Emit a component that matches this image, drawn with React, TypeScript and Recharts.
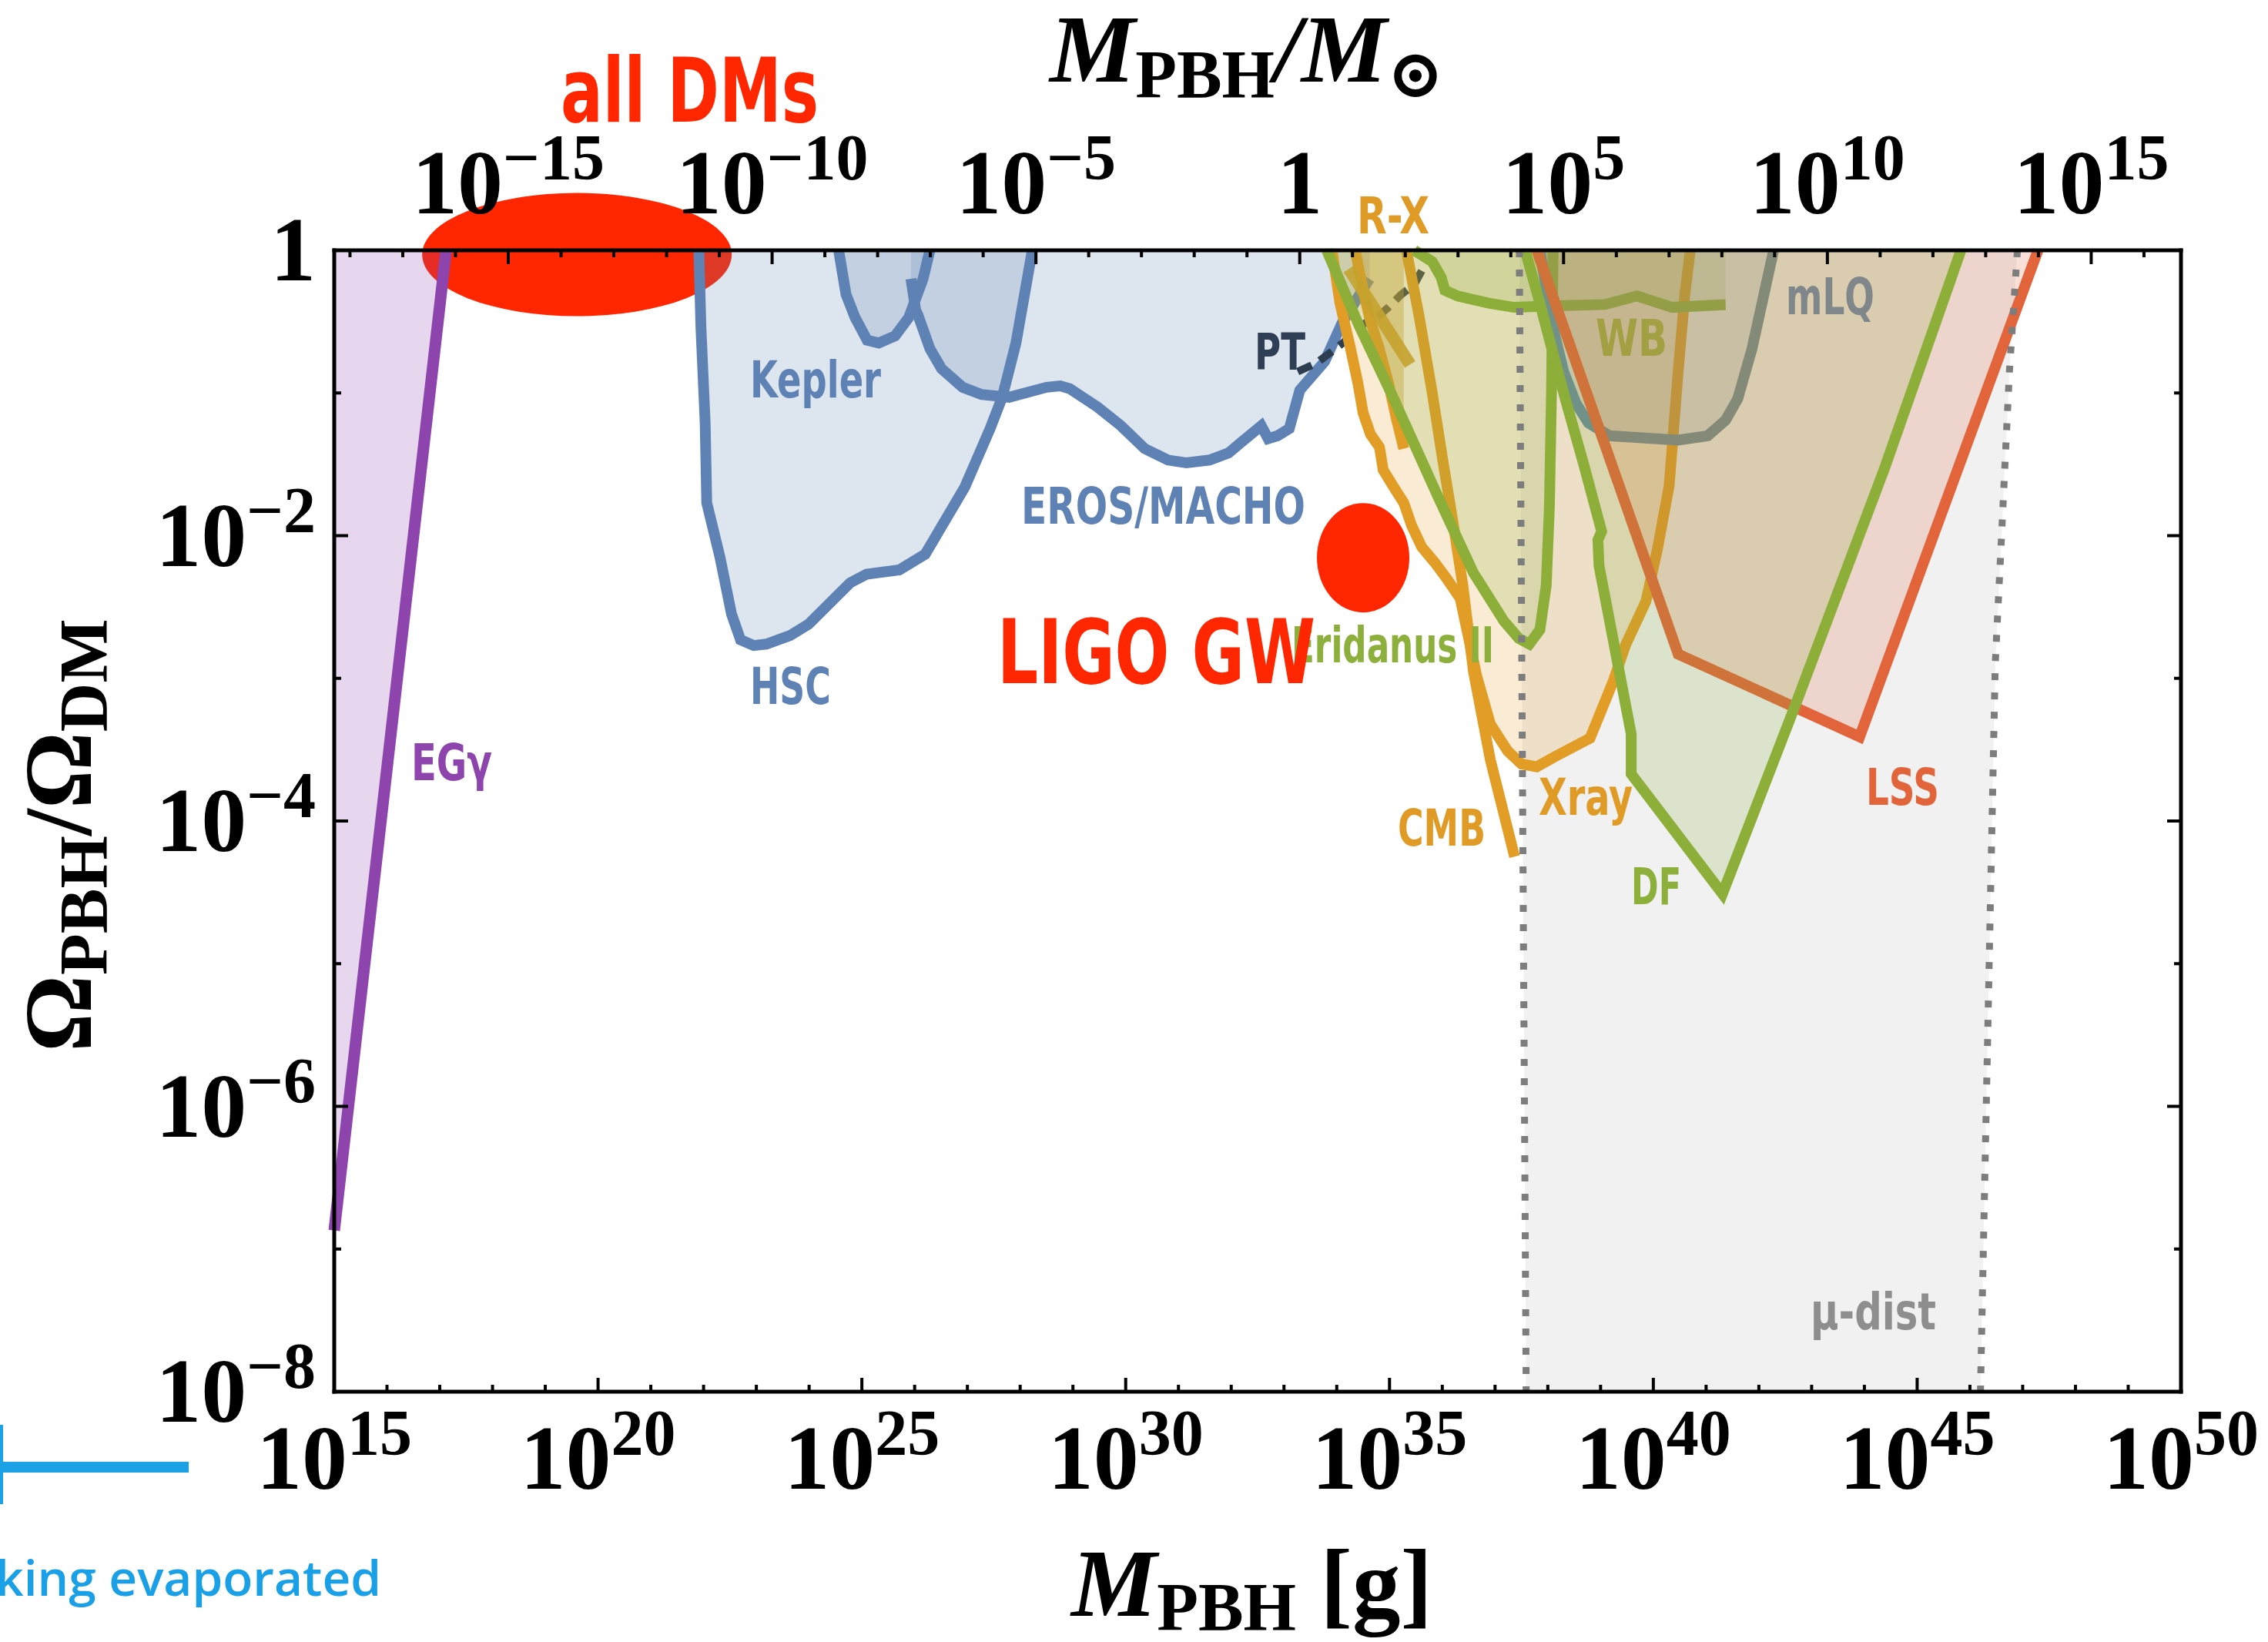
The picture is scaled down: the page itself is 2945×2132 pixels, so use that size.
import { Area, ComposedChart, Line, Scatter, XAxis, YAxis } from "recharts";

const W = 2945;
const H = 2132;
const PLOT = { left: 434, right: 2832, top: 325, bottom: 1807 };
const AX = 20;

const SERIF = '"Liberation Serif", "DejaVu Serif", serif';
const SANS = '"Liberation Sans Narrow", "DejaVu Sans Condensed", "Roboto Condensed", Roboto, sans-serif';

// log10 of one solar mass in grams
const LOG_MSUN = 33.2986;

const range = (a: number, b: number) => Array.from({ length: b - a + 1 }, (_, i) => a + i);

// ticks: log10 M[g], log10 M/Msun, log10 fraction
const MASS_DECADES = range(15, 50);
const MASS_LABELS = [15, 20, 25, 30, 35, 40, 45, 50];
const SOLAR_DECADES = range(-18, 16);
const SOLAR_LABELS = [-15, -10, -5, 0, 5, 10, 15];
const FRAC_DECADES = range(-8, 0);
const FRAC_LABELS = [0, -2, -4, -6, -8];

// constraint boundaries as [log10 M/g, log10 Omega_PBH/Omega_DM]
const EGAMMA = [[15.0, -6.87], [17.12, 0]];
const HSC = [
  [21.91, 0], [21.95, -0.54], [22.03, -1.21], [22.06, -1.77], [22.31, -2.15], [22.53, -2.55],
  [22.7, -2.73], [22.95, -2.77], [23.19, -2.76], [23.64, -2.7], [23.99, -2.62], [24.78, -2.33],
  [25.09, -2.27], [25.71, -2.24], [26.2, -2.13], [26.95, -1.66], [27.43, -1.25], [27.66, -1.03],
  [27.92, -0.65], [28.23, 0],
];
const KEPLER = [
  [24.56, 0], [24.7, -0.31], [24.87, -0.47], [25.1, -0.63], [25.32, -0.65], [25.63, -0.6],
  [25.89, -0.47], [26.16, -0.2], [26.29, 0],
];
const EROS_MACHO = [
  [25.93, -0.2], [26.02, -0.42], [26.06, -0.45], [26.29, -0.69], [26.51, -0.83], [26.91, -0.96],
  [27.26, -1.01], [27.79, -1.03], [28.5, -0.96], [28.76, -0.95], [28.94, -0.97], [29.47, -1.1],
  [29.91, -1.23], [30.36, -1.39], [30.8, -1.47], [31.15, -1.49], [31.59, -1.47], [31.95, -1.42],
  [32.21, -1.34], [32.57, -1.23], [32.7, -1.32], [32.88, -1.3], [33.1, -1.25], [33.3, -0.98],
  [33.77, -0.78], [34.1, -0.51], [34.62, -0.2],
];
const PT = [
  [33.26, -0.85], [33.62, -0.79], [34.15, -0.64], [34.25, -0.57], [34.79, -0.46], [34.98, -0.4],
  [35.22, -0.31], [35.47, -0.24], [35.76, -0.04],
];
const XRAY = [
  [33.91, 0], [34.06, -0.37], [34.25, -0.67], [34.4, -0.93], [34.5, -1.14], [34.64, -1.29],
  [34.81, -1.38], [34.88, -1.54], [35.08, -1.66], [35.27, -1.77], [35.42, -1.93], [35.61, -2.08],
  [35.86, -2.19], [36.1, -2.31], [36.34, -2.44], [36.65, -2.98], [36.91, -3.32], [37.24, -3.51],
  [37.5, -3.6], [37.79, -3.62], [38.13, -3.55], [38.8, -3.42], [39.24, -3.02], [39.47, -2.77],
  [39.86, -2.46], [40.08, -2.09], [40.3, -1.65], [40.47, -0.85], [40.6, -0.3], [40.7, 0],
];
const CMB = [
  [35.32, 0], [35.56, -0.46], [35.81, -1.0], [36.0, -1.45], [36.2, -1.9], [36.39, -2.35],
  [36.59, -2.95], [36.91, -3.57], [37.37, -4.25],
];
const RX_REGION = [
  [34.35, 0], [34.5, -0.28], [34.64, -0.5], [34.79, -0.67], [34.98, -0.93], [35.13, -1.18],
  [35.27, -1.39],
];
const RX_LINE = [[34.23, -0.13], [35.39, -0.8]];
const ERIDANUS = [
  [33.81, 0], [34.4, -0.51], [35.03, -1.0], [35.91, -1.72], [36.59, -2.26], [37.17, -2.6],
  [37.45, -2.72], [37.65, -2.76], [37.85, -2.66], [37.97, -2.35], [38.03, -1.8], [38.07, -1.0],
  [38.1, 0],
];
const WB = [
  [35.47, 0], [35.81, -0.08], [35.98, -0.19], [36.05, -0.28], [36.29, -0.32], [36.88, -0.37],
  [37.36, -0.4], [38.05, -0.39], [39.08, -0.38], [39.69, -0.32], [40.36, -0.4], [41.37, -0.38],
];
const MLQ = [
  [37.85, 0], [38.09, -0.53], [38.3, -0.85], [38.53, -1.07], [38.77, -1.21], [39.17, -1.3],
  [40.47, -1.33], [41.03, -1.3], [41.37, -1.19], [41.6, -1.04], [41.87, -0.69], [42.28, 0],
];
const LSS = [[37.79, 0], [40.47, -2.83], [43.91, -3.41], [47.29, 0]];
const DF = [
  [37.57, 0], [37.85, -0.37], [38.04, -0.64], [38.33, -1.04], [38.68, -1.5], [39.02, -1.97],
  [38.95, -2.03], [38.97, -2.21], [39.58, -3.39], [39.58, -3.67], [41.31, -4.51], [42.71, -3.17],
  [44.38, -1.53], [45.83, 0],
];
const MU_LEFT = [[37.46, 0], [37.59, -8]];
const MU_RIGHT = [[46.9, 0], [46.75, -0.84], [46.61, -1.92], [46.48, -2.9], [46.37, -4.9], [46.2, -8]];

// signal blobs: centre in log units
const ALL_DM = [[19.6, -0.03]];
const LIGO = [[34.5, -2.155]];

const pts = (arr: number[][]) => arr.map(([x, y]) => ({ x, y }));
const MU_REGION = pts([...MU_LEFT, ...MU_RIGHT.slice().reverse()]);

const sup = (n: number) => (n < 0 ? `\u2212${-n}` : `${n}`);

function Power({ x, y, exp, anchor }: { x: number; y: number; exp: number; anchor: "start" | "middle" | "end" }) {
  return (
    <text x={x} y={y} textAnchor={anchor} fontFamily={SERIF} fontWeight="bold" fontSize={118} fill="#000">
      {exp === 0 ? (
        "1"
      ) : (
        <>
          10
          <tspan fontSize={84} dy={-44}>
            {sup(exp)}
          </tspan>
        </>
      )}
    </text>
  );
}

type TickProps = { x: number; y: number; payload: { value: number } };

function BottomTick({ x, y, payload }: TickProps) {
  const v = Math.round(payload.value);
  return (
    <g>
      <line x1={x} x2={x} y1={y} y2={y - (v % 5 === 0 ? 18 : 9)} stroke="#000" strokeWidth={4} />
      {MASS_LABELS.includes(v) && <Power x={x} y={y + 126} exp={v} anchor="middle" />}
    </g>
  );
}

function TopTick({ x, y, payload }: TickProps) {
  const e = Math.round(payload.value - LOG_MSUN);
  return (
    <g>
      <line x1={x} x2={x} y1={y} y2={y + (e % 5 === 0 ? 18 : 9)} stroke="#000" strokeWidth={4} />
      {SOLAR_LABELS.includes(e) && <Power x={x} y={y - 48} exp={e} anchor="middle" />}
    </g>
  );
}

function LeftTick({ x, y, payload }: TickProps) {
  const v = Math.round(payload.value);
  return (
    <g>
      <line x1={x} x2={x + (v % 2 === 0 ? 18 : 9)} y1={y} y2={y} stroke="#000" strokeWidth={4} />
      {FRAC_LABELS.includes(v) && <Power x={x - 24} y={y + 39} exp={v} anchor="end" />}
    </g>
  );
}

function RightTick({ x, y, payload }: TickProps) {
  const v = Math.round(payload.value);
  return <line x1={x} x2={x - (v % 2 === 0 ? 18 : 9)} y1={y} y2={y} stroke="#000" strokeWidth={4} />;
}

const blob = (rx: number, ry: number) => (p: any) => <ellipse cx={p.cx} cy={p.cy} rx={rx} ry={ry} fill="#ff2600" />;

const frame = { stroke: "#000", strokeWidth: 5, strokeLinecap: "square" as const };

// annotation text: left edge, baseline, drawn width
const LABELS: { text: string; x: number; y: number; w: number; color: string; size?: number }[] = [
  { text: "all DMs", x: 728, y: 158, w: 335, color: "#ff2600", size: 116 },
  { text: "R-X", x: 1762, y: 303, w: 94, color: "#e09b26" },
  { text: "Kepler", x: 974, y: 516, w: 170, color: "#5f82b5" },
  { text: "HSC", x: 974, y: 914, w: 105, color: "#5f82b5" },
  { text: "EROS/MACHO", x: 1326, y: 680, w: 369, color: "#5f82b5" },
  { text: "PT", x: 1629, y: 480, w: 66, color: "#2e3f55" },
  { text: "EGγ", x: 534, y: 1013, w: 105, color: "#8e44ad" },
  { text: "Eridanus II", x: 1677, y: 860, w: 263, color: "#8db03c", size: 64 },
  { text: "LIGO GW", x: 1295, y: 887, w: 413, color: "#ff2600", size: 116 },
  { text: "WB", x: 2072, y: 462, w: 93, color: "#a3a043" },
  { text: "mLQ", x: 2319, y: 408, w: 115, color: "#80878a" },
  { text: "CMB", x: 1815, y: 1098, w: 114, color: "#e09b26" },
  { text: "Xray", x: 1998, y: 1058, w: 122, color: "#e09b26" },
  { text: "DF", x: 2118, y: 1174, w: 65, color: "#8db03c" },
  { text: "LSS", x: 2423, y: 1045, w: 95, color: "#e1643a" },
  { text: "μ-dist", x: 2351, y: 1726, w: 163, color: "#8e8e8e" },
];

const LW = 14;

export default function App() {
  const common = {
    xAxisId: "m",
    yAxisId: "f",
    dataKey: "y",
    type: "linear" as const,
    isAnimationActive: false,
    dot: false,
    activeDot: false,
  };
  return (
    <div style={{ position: "absolute", left: 0, top: 0, width: W, height: H, background: "#fff" }}>
      <ComposedChart
        width={W}
        height={H}
        margin={{ top: PLOT.top - AX, bottom: H - PLOT.bottom - AX, left: PLOT.left - AX, right: W - PLOT.right - AX }}
      >
        <XAxis
          xAxisId="m"
          dataKey="x"
          type="number"
          domain={[15, 50]}
          ticks={MASS_DECADES}
          interval={0}
          height={AX}
          tickSize={0}
          tickMargin={0}
          tickLine={false}
          axisLine={frame}
          tick={(p: any) => <BottomTick {...p} />}
        />
        <XAxis
          xAxisId="sun"
          dataKey="x"
          orientation="top"
          type="number"
          domain={[15, 50]}
          allowDataOverflow
          ticks={SOLAR_DECADES.map((e) => e + LOG_MSUN)}
          interval={0}
          height={AX}
          tickSize={0}
          tickMargin={0}
          tickLine={false}
          axisLine={frame}
          tick={(p: any) => <TopTick {...p} />}
        />
        <YAxis
          yAxisId="f"
          dataKey="y"
          type="number"
          domain={[-8, 0]}
          ticks={FRAC_DECADES}
          interval={0}
          width={AX}
          tickSize={0}
          tickMargin={0}
          tickLine={false}
          axisLine={frame}
          tick={(p: any) => <LeftTick {...p} />}
        />
        <YAxis
          yAxisId="r"
          dataKey="y"
          orientation="right"
          type="number"
          domain={[-8, 0]}
          allowDataOverflow
          ticks={FRAC_DECADES}
          interval={0}
          width={AX}
          tickSize={0}
          tickMargin={0}
          tickLine={false}
          axisLine={frame}
          tick={(p: any) => <RightTick {...p} />}
        />

        {/* mu-distortion band */}
        <Area {...common} data={MU_REGION} stroke="none" fill="#f1f1f1" fillOpacity={1} baseValue={0} zIndex={10} />

        <Scatter xAxisId="m" yAxisId="f" data={pts(ALL_DM)} isAnimationActive={false} shape={blob(201, 80)} zIndex={20} />
        <Scatter xAxisId="m" yAxisId="f" data={pts(LIGO)} isAnimationActive={false} shape={blob(60, 71)} zIndex={21} />

        <Area {...common} data={pts(EGAMMA)} stroke="#8e44ad" strokeWidth={LW + 1} fill="#8e44ad" fillOpacity={0.21} baseValue={0} zIndex={101} />
        <Area {...common} data={pts(HSC)} stroke="#5f82b5" strokeWidth={LW} fill="#5f82b5" fillOpacity={0.21} baseValue={0} zIndex={102} />
        <Area {...common} data={pts(KEPLER)} stroke="#5f82b5" strokeWidth={LW} fill="#5f82b5" fillOpacity={0.21} baseValue={0} zIndex={103} />
        <Area {...common} data={pts(EROS_MACHO)} stroke="#5f82b5" strokeWidth={LW} fill="#5f82b5" fillOpacity={0.21} baseValue={0} zIndex={104} />
        <Line {...common} data={pts(PT)} stroke="#2d3e50" strokeWidth={10} strokeDasharray="20 12" zIndex={105} />

        <Area {...common} data={pts(XRAY)} stroke="#e29d26" strokeWidth={LW} fill="#e29d26" fillOpacity={0.2} baseValue={0} zIndex={106} />
        <Line {...common} data={pts(CMB)} stroke="#e29d26" strokeWidth={LW} zIndex={107} />
        <Area {...common} data={pts(RX_REGION)} stroke="#e29d26" strokeWidth={LW} fill="#d09e2e" fillOpacity={0.4} baseValue={0} zIndex={108} />
        <Line {...common} data={pts(RX_LINE)} stroke="#d4a02a" strokeOpacity={0.9} strokeWidth={LW + 2} zIndex={109} />

        <Area {...common} data={pts(ERIDANUS)} stroke="#8daf3a" strokeWidth={LW} fill="#8daf3a" fillOpacity={0.2} baseValue={0} zIndex={110} />
        <Area {...common} data={pts(WB)} stroke="#8daf3a" strokeWidth={LW} fill="#8daf3a" fillOpacity={0.2} baseValue={0} zIndex={111} />
        <Area {...common} data={pts(MLQ)} stroke="#6a8a9b" strokeWidth={LW} fill="#6a8a9b" fillOpacity={0.2} baseValue={0} zIndex={112} />
        <Area {...common} data={pts(LSS)} stroke="#e1643a" strokeWidth={LW} fill="#e1643a" fillOpacity={0.2} baseValue={0} zIndex={113} />
        <Area {...common} data={pts(DF)} stroke="#8daf3a" strokeWidth={LW} fill="#8daf3a" fillOpacity={0.2} baseValue={0} zIndex={114} />

        <Line {...common} data={pts(MU_LEFT)} stroke="#7d7d7d" strokeWidth={9} strokeDasharray="9 16" zIndex={115} />
        <Line {...common} data={pts(MU_RIGHT)} stroke="#7d7d7d" strokeWidth={9} strokeDasharray="9 16" zIndex={116} />
      </ComposedChart>

      <svg width={W} height={H} style={{ position: "absolute", left: 0, top: 0, pointerEvents: "none" }}>
        <text x={1363} y={106} fontFamily={SERIF} fontWeight="bold" fontSize={125}>
          <tspan fontStyle="italic">M</tspan>
          <tspan fontSize={88} dy={20}>PBH</tspan>
          <tspan fontStyle="italic" dy={-20}>/M</tspan>
          <tspan fontSize={88} dy={20}>⊙</tspan>
        </text>
        <text x={1391} y={2098} fontFamily={SERIF} fontWeight="bold" fontSize={125}>
          <tspan fontStyle="italic">M</tspan>
          <tspan fontSize={88} dy={18}>PBH</tspan>
          <tspan dy={-18}>{" [g]"}</tspan>
        </text>
        <text transform="translate(118 1366) rotate(-90)" fontFamily={SERIF} fontWeight="bold" fontSize={125}>
          Ω<tspan fontSize={88} dy={20}>PBH</tspan>
          <tspan dy={-20}>/Ω</tspan>
          <tspan fontSize={88} dy={20}>DM</tspan>
        </text>

        {LABELS.map((l) => (
          <text
            key={l.text}
            x={l.x}
            y={l.y}
            textLength={l.w}
            lengthAdjust="spacingAndGlyphs"
            fontFamily={SANS}
            fontWeight="bold"
            fontSize={l.size ?? 66}
            fill={l.color}
          >
            {l.text}
          </text>
        ))}

        <rect x={0} y={1898} width={245} height={14} fill="#1ba1e6" />
        <rect x={0} y={1850} width={4} height={103} fill="#1ba1e6" />
        <text x={-6} y={2072} fontFamily='"Open Sans", sans-serif' fontWeight={600} fontSize={64} fill="#1aa0e6">
          king evaporated
        </text>
      </svg>
    </div>
  );
}
